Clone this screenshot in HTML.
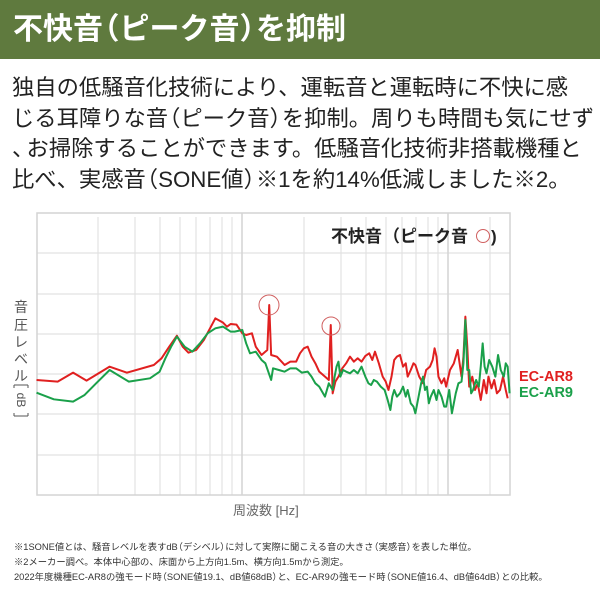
<!DOCTYPE html>
<html><head><meta charset="utf-8"><style>
body{margin:0;width:600px;height:600px;background:#fff;overflow:hidden;font-family:"Liberation Sans","Noto Sans CJK JP",sans-serif;position:relative}
.bar{position:absolute;left:0;top:0;width:600px;height:59px;background:#5f7a3e}
.bar div{position:absolute;left:13px;top:11px;color:#fff;font-size:30px;font-weight:bold;line-height:38px;white-space:nowrap}
.body{position:absolute;left:12px;top:73px;font-size:22.3px;line-height:30.6px;color:#222;white-space:nowrap}
.o{margin-left:-0.45em}.c{margin-right:-0.45em}
.fn{position:absolute;left:14px;font-size:9.3px;color:#333;white-space:nowrap}
</style></head><body>
<div class="bar"><div>不快音<span class="o">（</span>ピーク音<span class="c">）</span>を抑制</div></div>
<div class="body">独自の低騒音化技術により、運転音と運転時に不快に感<br>じる耳障りな音<span class="o">（</span>ピーク音<span class="c">）</span>を抑制。周りも時間も気にせず<br><span style="margin-right:-0.35em">、</span>お掃除することができます。低騒音化技術非搭載機種と<br>比べ、実感音<span class="o">（</span>SONE値<span class="c">）</span>※1を約14%低減しました※2。</div>
<svg width="600" height="600" style="position:absolute;left:0;top:0">
<g stroke="#e2e2e2" stroke-width="1.2" fill="none">
<line x1="37" y1="253" x2="510" y2="253"/><line x1="37" y1="294" x2="510" y2="294"/><line x1="37" y1="334" x2="510" y2="334"/><line x1="37" y1="374" x2="510" y2="374"/><line x1="37" y1="414" x2="510" y2="414"/><line x1="37" y1="455" x2="510" y2="455"/>
<line x1="98" y1="217" x2="98" y2="495"/><line x1="135" y1="217" x2="135" y2="495"/><line x1="160" y1="217" x2="160" y2="495"/><line x1="180" y1="217" x2="180" y2="495"/><line x1="196" y1="217" x2="196" y2="495"/><line x1="210" y1="217" x2="210" y2="495"/><line x1="222" y1="217" x2="222" y2="495"/><line x1="232" y1="217" x2="232" y2="495"/>
<line x1="304" y1="217" x2="304" y2="495"/><line x1="341" y1="217" x2="341" y2="495"/><line x1="366" y1="217" x2="366" y2="495"/><line x1="386" y1="217" x2="386" y2="495"/><line x1="402" y1="217" x2="402" y2="495"/><line x1="416" y1="217" x2="416" y2="495"/><line x1="428" y1="217" x2="428" y2="495"/><line x1="438" y1="217" x2="438" y2="495"/><line x1="490" y1="217" x2="490" y2="495"/>
</g>
<g stroke="#d4d4d4" stroke-width="1.5" fill="none"><rect x="37" y="213" width="473" height="282"/><line x1="242" y1="213" x2="242" y2="495"/><line x1="448" y1="213" x2="448" y2="495"/></g>
<g transform="translate(0,190) scale(0.3846,0.3333)" fill="none" stroke-linejoin="round">
<polyline vector-effect="non-scaling-stroke" stroke="#e02020" stroke-width="2" points="95,570 150,575 190,548 225,572 285,530 330,548 400,525 420,505 440,470 460,437 475,470 490,488 510,480 530,450 560,385 580,398 590,410 600,402 615,404 630,430 640,435 655,430 665,470 680,495 695,480 700,345 705,495 720,500 740,525 755,515 770,515 780,490 790,475 800,470 810,500 820,520 830,545 845,560 855,570 860,405 865,610 872,575 880,560 890,535 900,520 910,500 920,515 930,505 940,515 950,498 960,490 968,510 975,485 985,520 995,560 1003,575 1010,600 1018,560 1025,510 1032,500 1040,495 1048,530 1055,520 1060,560 1068,540 1075,520 1080,525 1090,560 1100,580 1108,540 1118,530 1125,510 1130,475 1135,500 1140,560 1148,580 1155,565 1160,590 1170,540 1180,520 1190,480 1195,520 1200,560 1205,500 1210,380 1215,470 1220,590 1228,560 1235,600 1242,580 1250,630 1258,570 1265,610 1270,560 1278,595 1285,570 1292,610 1300,600 1308,560 1315,600 1320,625"/>
<polyline vector-effect="non-scaling-stroke" stroke="#1aa04a" stroke-width="2" points="95,608 140,628 190,635 220,615 250,580 285,540 335,575 390,565 415,545 430,505 445,470 460,440 480,470 500,485 520,460 540,430 560,415 580,410 600,425 610,425 630,420 640,460 650,490 665,485 680,510 690,520 705,570 710,535 725,540 740,545 755,535 770,535 785,548 800,545 810,560 820,580 830,590 845,620 855,580 865,600 870,560 875,530 880,515 885,560 892,540 900,545 910,550 920,540 930,550 940,530 950,560 958,580 965,585 972,570 980,575 990,590 1000,600 1008,630 1015,660 1020,620 1025,600 1032,620 1040,610 1048,590 1055,620 1060,600 1068,640 1075,650 1080,670 1085,640 1090,610 1095,580 1100,560 1105,600 1110,590 1115,640 1120,620 1128,600 1135,630 1140,600 1148,620 1155,650 1160,650 1168,600 1175,670 1180,640 1185,610 1192,580 1200,575 1205,520 1210,390 1215,540 1220,540 1225,610 1230,600 1238,570 1245,590 1250,530 1255,460 1260,530 1265,550 1272,510 1280,530 1288,560 1295,495 1302,540 1310,560 1315,520 1320,530 1325,610"/>
</g>
<circle cx="269" cy="305" r="10" fill="none" stroke="#d06060" stroke-width="1"/>
<circle cx="331" cy="326" r="9" fill="none" stroke="#d06060" stroke-width="1"/>
<text x="331" y="242" font-size="17" font-weight="bold" fill="#222">不快音</text>
<text x="383" y="242" font-size="17" font-weight="bold" fill="#222">（ピーク音</text>
<circle cx="483" cy="236" r="6.5" fill="none" stroke="#d06060" stroke-width="1"/>
<text x="491" y="242" font-size="17" font-weight="bold" fill="#222">)</text>
<text x="519" y="381" font-size="14.5" font-weight="bold" fill="#e02020">EC-AR8</text>
<text x="519" y="397" font-size="14.5" font-weight="bold" fill="#1aa04a">EC-AR9</text>
<g font-size="14" fill="#555" text-anchor="middle">
<text x="21" y="312">音</text><text x="21" y="330">圧</text><text x="21" y="347">レ</text><text x="21" y="364">ベ</text><text x="21" y="381">ル</text>
<text x="21" y="404" font-size="12" transform="rotate(90 21 400)">dB</text>
</g>
<path d="M14 385 H28 M14 385 V388 M28 385 V388 M14 416 H28 M14 416 V413 M28 416 V413" stroke="#555" stroke-width="1" fill="none"/>
<text x="233" y="515" font-size="13" fill="#666">周波数 [Hz]</text>
</svg>
<div class="fn" style="top:539px">※1SONE値とは、騒音レベルを表すdB<span class="o">（</span>デシベル<span class="c">）</span>に対して実際に聞こえる音の大きさ<span class="o">（</span>実感音<span class="c">）</span>を表した単位。</div>
<div class="fn" style="top:554px">※2メーカー調べ。本体中心部の、床面から上方向1.5m、横方向1.5mから測定。</div>
<div class="fn" style="top:569px">2022年度機種EC-AR8の強モード時<span class="o">（</span>SONE値19.1、dB値68dB<span class="c">）</span>と、EC-AR9の強モード時<span class="o">（</span>SONE値16.4、dB値64dB<span class="c">）</span>との比較。</div>
</body></html>
